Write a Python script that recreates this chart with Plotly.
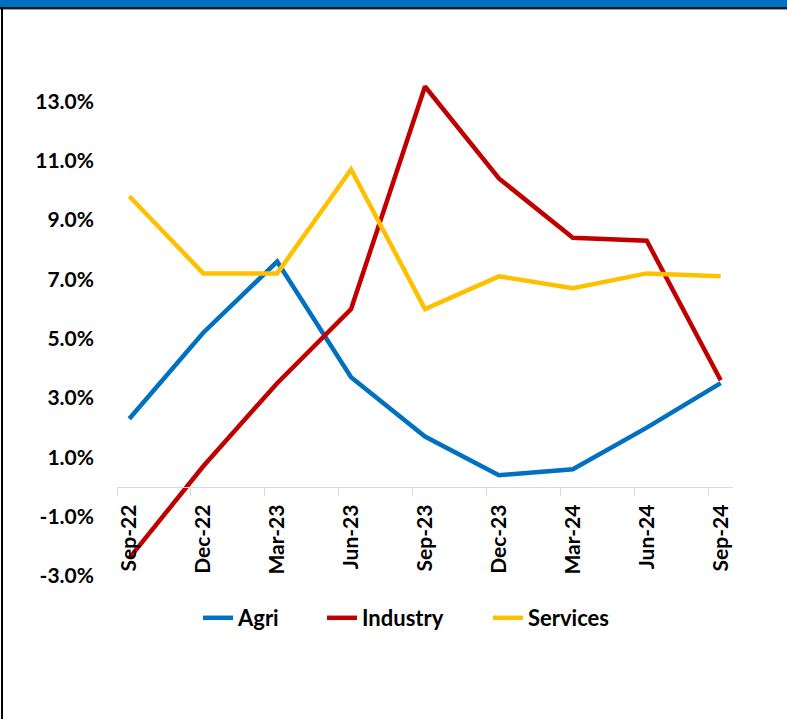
import plotly.graph_objects as go

# ---- data ----
categories = ["Sep-22", "Dec-22", "Mar-23", "Jun-23", "Sep-23", "Dec-23", "Mar-24", "Jun-24", "Sep-24"]
agri = [2.3, 5.2, 7.6, 3.7, 1.7, 0.4, 0.6, 2.0, 3.5]
industry = [-2.4, 0.7, 3.5, 6.0, 13.5, 10.4, 8.4, 8.3, 3.6]
services = [9.8, 7.2, 7.2, 10.7, 6.0, 7.1, 6.7, 7.2, 7.1]
y_ticks = [-3, -1, 1, 3, 5, 7, 9, 11, 13]

# date-like axis: each category is a quarter (3 months); points sit mid-month
month_index = [3 * i for i in range(len(categories))]
x_pos = [m + 0.5 for m in month_index]

colors = {"Agri": "#0070C0", "Industry": "#C00000", "Services": "#FFC000"}
legend_widths = {"Agri": 79, "Industry": 121, "Services": 90}
FONT = "Lato"

fig = go.Figure()
for name, vals in [("Agri", agri), ("Industry", industry), ("Services", services)]:
    fig.add_trace(go.Scatter(
        x=x_pos, y=vals, name=name, mode="lines",
        line=dict(color=colors[name], width=4.5),
        cliponaxis=False,
        legendwidth=legend_widths[name],
    ))

W, H = 787, 719
L, R, T, B = 117, 54, 42, 143
pw, ph = W - L - R, H - T - B
def px(xp):
    return (xp - L) / pw
def py(yp):
    return (H - B - yp) / ph

y_lo, y_hi = -3, 15
fig.update_layout(
    width=W, height=H,
    margin=dict(l=L, r=R, t=T, b=B),
    plot_bgcolor="white", paper_bgcolor="white",
    showlegend=True,
    legend=dict(
        orientation="h", x=px(198), xanchor="left", y=py(618), yanchor="middle",
        font=dict(family=FONT, size=22, color="black", weight="bold"),
        itemwidth=30,
    ),
    xaxis=dict(
        range=[0, 25],
        anchor="free", position=(0 - y_lo) / (y_hi - y_lo),
        showgrid=False, zeroline=False,
        showline=True, linecolor="#D9D9D9", linewidth=1.3,
        tickmode="array", tickvals=x_pos, ticktext=categories,
        ticks="", tickangle=-90,
        tickfont=dict(family=FONT, size=21, color="black", weight="bold"),
        ticklabelstandoff=8,
        minor=dict(tickmode="array", tickvals=month_index, ticks="outside",
                   ticklen=8, tickcolor="#D9D9D9", tickwidth=1.3, showgrid=False),
    ),
    yaxis=dict(
        range=[y_lo, y_hi],
        showgrid=False, zeroline=False, showline=False,
        tickmode="array", tickvals=y_ticks,
        ticktext=[f"{v:.1f}%" for v in y_ticks],
        ticks="",
        tickfont=dict(family=FONT, size=21, color="black", weight="bold"),
        ticklabelstandoff=22,
    ),
)

# frame decorations
fig.add_shape(type="rect", xref="paper", yref="paper",
              x0=px(0), x1=px(W), y0=py(7), y1=py(0),
              fillcolor="#0070C0", line_width=0, layer="above")
fig.add_shape(type="rect", xref="paper", yref="paper",
              x0=px(0), x1=px(W), y0=py(9), y1=py(7),
              fillcolor="#1a1a1a", line_width=0, layer="above")
fig.add_shape(type="rect", xref="paper", yref="paper",
              x0=px(0), x1=px(W), y0=py(10), y1=py(9),
              fillcolor="#9a9a9a", line_width=0, layer="above")
fig.add_shape(type="rect", xref="paper", yref="paper",
              x0=px(1), x1=px(3), y0=py(H), y1=py(7),
              fillcolor="black", line_width=0, layer="above")

fig.write_html("out.html")
